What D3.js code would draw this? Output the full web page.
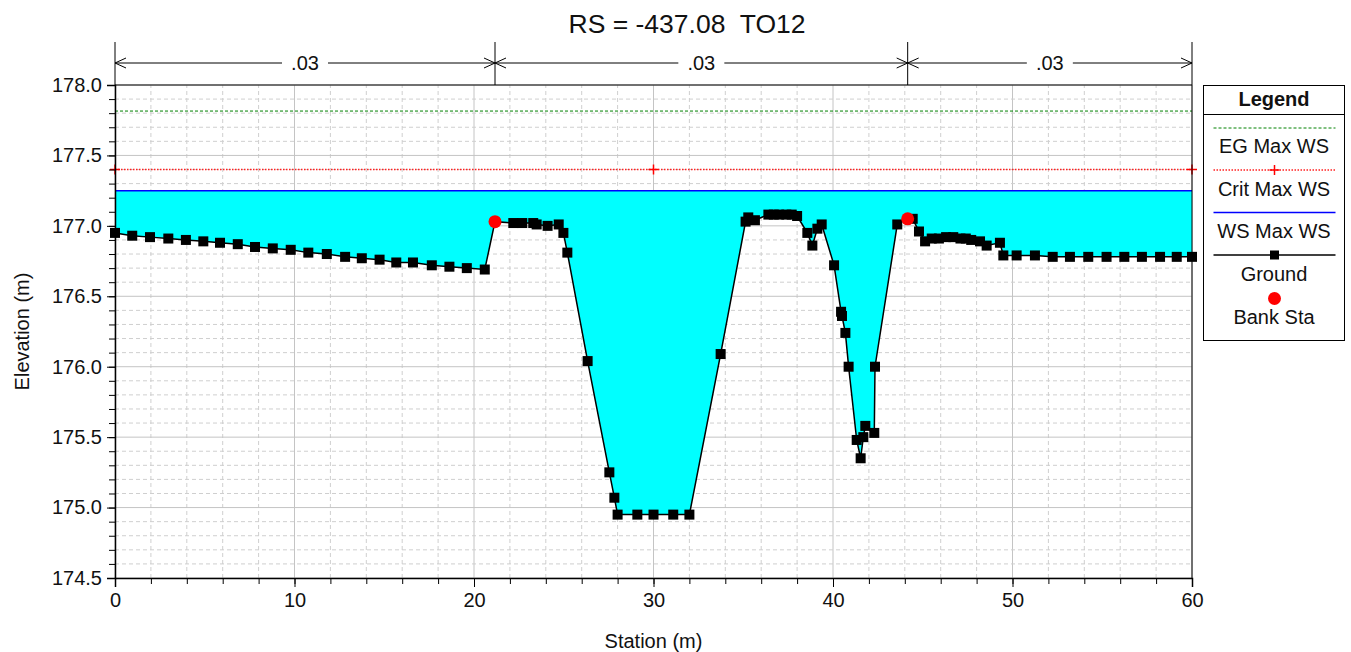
<!DOCTYPE html>
<html>
<head>
<meta charset="utf-8">
<script src="https://cdn.jsdelivr.net/npm/d3@7"></script>
<style>
  body { margin: 0; background: #fff; }
  svg { font-family: "Liberation Sans", Arial, sans-serif; }
</style>
</head>
<body>
<div id="chart"></div>
<script>
// ground profile (station m, elevation m)
var groundSta = [0, 0.96, 1.95, 2.97, 3.95, 4.92, 5.85, 6.84, 7.8, 8.79, 9.79, 10.77, 11.8, 12.82, 13.75, 14.74, 15.67, 16.6, 17.65, 18.63, 19.6, 20.6,
  21.17, 22.19, 22.69, 23.3, 23.49, 24.1, 24.72, 24.98, 25.2, 26.33, 27.54, 27.82, 28.0, 29.1, 30.0, 31.1, 32.0, 33.74,
  35.13, 35.28, 35.65, 36.4, 36.7, 37.0, 37.4, 37.7, 38.0, 38.57, 38.85, 39.13, 39.37, 40.06, 40.45, 40.5, 40.69, 40.87,
  41.32, 41.54, 41.69, 41.8, 42.3, 42.34, 43.58, 44.16, 44.44, 44.79, 45.13, 45.5, 45.9, 46.3, 46.7, 47.1, 47.4, 47.7,
  48.19, 48.56, 49.3, 49.49, 50.23, 51.25, 52.24, 53.2, 54.22, 55.24, 56.23, 57.21, 58.22, 59.15, 60.0];
var groundElev = [176.95, 176.93, 176.92, 176.91, 176.9, 176.89, 176.88, 176.87, 176.85, 176.84, 176.83, 176.81, 176.8, 176.78, 176.77, 176.76, 176.74, 176.74, 176.72, 176.71, 176.7, 176.69,
  177.03, 177.02, 177.02, 177.02, 177.01, 177.0, 177.01, 176.95, 176.81, 176.04, 175.25, 175.07, 174.95, 174.95, 174.95, 174.95, 174.95, 176.09,
  177.03, 177.06, 177.04, 177.08, 177.08, 177.08, 177.08, 177.08, 177.07, 176.95, 176.86, 176.98, 177.01, 176.72, 176.39, 176.36, 176.24, 176.0,
  175.48, 175.35, 175.5, 175.58, 175.53, 176.0, 177.01, 177.05, 177.05, 176.96, 176.89, 176.91, 176.91, 176.92, 176.92, 176.91, 176.91, 176.9,
  176.89, 176.86, 176.88, 176.79, 176.79, 176.79, 176.78, 176.78, 176.78, 176.78, 176.78, 176.78, 176.78, 176.78, 176.78];
// bank stations (drawn as red dots, no square)
var bankSta = [21.17, 44.16];
var bankElev = [177.03, 177.05];
var wsMax = 177.25;
var critMax = 177.40;
var egMax = 177.815;
var critMarkSta = [0, 30, 60];
var nBreaks = [0, 21.17, 44.16, 60];
var nValues = [".03", ".03", ".03"];
var xTicks = [0, 10, 20, 30, 40, 50, 60];
var yTicks = [174.5, 175.0, 175.5, 176.0, 176.5, 177.0, 177.5, 178.0];
var legendNames = ["EG Max WS", "Crit Max WS", "WS Max WS", "Ground", "Bank Sta"];

var width = 1351, height = 652;
var margin = {top: 85, right: 159, bottom: 74, left: 115};
var w = width - margin.left - margin.right;
var h = height - margin.top - margin.bottom;
var fs = 20;

var svg = d3.select("#chart").append("svg")
    .attr("width", width)
    .attr("height", height);

var x = d3.scaleLinear().domain([0, 60]).range([margin.left, margin.left + w]);
var y = d3.scaleLinear().domain([174.5, 178.0]).range([margin.top + h, margin.top]);

var ground = groundSta.map(function(s, i){ return [s, groundElev[i]]; });

//grid
var grid = svg.append("g");
d3.range(0, 61, 2).forEach(function(v){
    var major = v % 10 === 0;
    grid.append("line")
        .attr("x1", x(v)).attr("x2", x(v))
        .attr("y1", y(174.5)).attr("y2", y(178))
        .attr("stroke", major ? "#c4c4c4" : "#cfcfcf")
        .attr("stroke-dasharray", major ? null : "4,3");
});
d3.range(0, 36).forEach(function(k){
    var v = 174.5 + k * 0.1;
    var major = k % 5 === 0;
    grid.append("line")
        .attr("x1", x(0)).attr("x2", x(60))
        .attr("y1", y(v)).attr("y2", y(v))
        .attr("stroke", major ? "#c4c4c4" : "#cfcfcf")
        .attr("stroke-dasharray", major ? null : "4,3");
});

// water fill
var area = d3.area()
    .x(function(d){ return x(d[0]); })
    .y0(function(d){ return y(d[1]); })
    .y1(y(wsMax));
svg.append("path")
    .datum(ground)
    .attr("d", area)
    .attr("fill", "#00ffff");

// EG line
svg.append("line")
    .attr("x1", x(0)).attr("x2", x(60))
    .attr("y1", y(egMax)).attr("y2", y(egMax))
    .attr("stroke", "#008000").attr("stroke-width", 1)
    .attr("stroke-dasharray", "3,2");

// crit line
svg.append("line")
    .attr("x1", x(0)).attr("x2", x(60))
    .attr("y1", y(critMax)).attr("y2", y(critMax))
    .attr("stroke", "#ff2020").attr("stroke-width", 1.3)
    .attr("stroke-dasharray", "1.5,1.5");
critMarkSta.forEach(function(s){
    svg.append("path")
        .attr("d", "M" + (x(s) - 5) + "," + y(critMax) + "h10M" + x(s) + "," + (y(critMax) - 5) + "v10")
        .attr("stroke", "#ff0000").attr("stroke-width", 1.5);
});

// WS line
svg.append("line")
    .attr("x1", x(0)).attr("x2", x(60))
    .attr("y1", y(wsMax)).attr("y2", y(wsMax))
    .attr("stroke", "#0000ff").attr("stroke-width", 1.5);

// ground line + markers
var line = d3.line().x(function(d){ return x(d[0]); }).y(function(d){ return y(d[1]); });
svg.append("path")
    .datum(ground)
    .attr("d", line)
    .attr("fill", "none")
    .attr("stroke", "#000").attr("stroke-width", 1.5);
svg.selectAll("rect.gp")
    .data(ground.filter(function(d){ return bankSta.indexOf(d[0]) < 0; }))
    .enter().append("rect")
    .attr("class", "gp")
    .attr("x", function(d){ return x(d[0]) - 5; })
    .attr("y", function(d){ return y(d[1]) - 5; })
    .attr("width", 10).attr("height", 10)
    .attr("fill", "#000");

// bank stations
svg.selectAll("circle.bank")
    .data(bankSta)
    .enter().append("circle")
    .attr("class", "bank")
    .attr("cx", function(d){ return x(d); })
    .attr("cy", function(d, i){ return y(bankElev[i]); })
    .attr("r", 6.5)
    .attr("fill", "#ff0000");

// frame
svg.append("path")
    .attr("d", "M" + x(0) + "," + y(178) + "H" + x(60) + "V" + y(174.5))
    .attr("fill", "none").attr("stroke", "#000").attr("stroke-width", 1);

// axes
var xAxis = d3.axisBottom(x).tickValues(xTicks).tickSize(9).tickPadding(6).tickFormat(d3.format("d"));
var gx = svg.append("g").attr("transform", "translate(0," + y(174.5) + ")").call(xAxis);
gx.selectAll("text").attr("font-size", fs).attr("fill", "#111").attr("font-family", "Liberation Sans, Arial");
svg.append("g").attr("transform", "translate(0," + y(174.5) + ")")
    .call(d3.axisBottom(x).tickValues(d3.range(0, 61, 2)).tickSize(6).tickFormat(""))
    .select(".domain").remove();

var yAxis = d3.axisLeft(y).tickValues(yTicks).tickSize(8).tickPadding(5).tickFormat(d3.format(".1f"));
var gy = svg.append("g").attr("transform", "translate(" + x(0) + ",0)").call(yAxis);
gy.selectAll("text").attr("font-size", fs).attr("fill", "#111").attr("font-family", "Liberation Sans, Arial");
svg.append("g").attr("transform", "translate(" + x(0) + ",0)")
    .call(d3.axisLeft(y).tickValues(d3.range(0, 36).map(function(k){ return 174.5 + k * 0.1; })).tickSize(6).tickFormat(""))
    .select(".domain").remove();
svg.selectAll(".domain").attr("stroke-width", 1.5);

svg.append("text")
    .attr("x", x(30)).attr("y", 648)
    .attr("text-anchor", "middle").attr("font-size", fs).attr("fill", "#111")
    .text("Station (m)");
svg.append("text")
    .attr("transform", "translate(29," + y(176.25) + ") rotate(-90)")
    .attr("text-anchor", "middle").attr("font-size", fs).attr("fill", "#111")
    .text("Elevation (m)");

// title
svg.append("text")
    .attr("x", 687).attr("y", 33)
    .attr("text-anchor", "middle").attr("font-size", 26.5).attr("fill", "#111")
    .attr("xml:space", "preserve")
    .text("RS = -437.08  TO12");

// manning n bands
var nY = 63;
nBreaks.forEach(function(b){
    svg.append("line")
        .attr("x1", x(b)).attr("x2", x(b))
        .attr("y1", 42).attr("y2", y(178))
        .attr("stroke", "#000").attr("stroke-width", 1);
});
nValues.forEach(function(v, i){
    var x0 = x(nBreaks[i]), x1 = x(nBreaks[i + 1]), xm = (x0 + x1) / 2;
    var tw = 46;
    svg.append("path")
        .attr("d", "M" + x0 + "," + nY + "H" + (xm - tw / 2) + "M" + (xm + tw / 2) + "," + nY + "H" + x1 +
            "M" + (x0 + 11) + "," + (nY - 5) + "L" + x0 + "," + nY + "L" + (x0 + 11) + "," + (nY + 5) +
            "M" + (x1 - 11) + "," + (nY - 5) + "L" + x1 + "," + nY + "L" + (x1 - 11) + "," + (nY + 5))
        .attr("fill", "none").attr("stroke", "#000").attr("stroke-width", 1);
    svg.append("text")
        .attr("x", xm).attr("y", nY + 7)
        .attr("text-anchor", "middle").attr("font-size", fs).attr("fill", "#111")
        .text(v);
});

// legend
var lg = svg.append("g").attr("transform", "translate(1203.5,85.5)");
lg.append("rect").attr("width", 141).attr("height", 255)
    .attr("fill", "#fff").attr("stroke", "#000").attr("stroke-width", 1);
lg.append("line").attr("x1", 0).attr("x2", 141).attr("y1", 29).attr("y2", 29).attr("stroke", "#000");
lg.append("text").attr("x", 70.5).attr("y", 20).attr("text-anchor", "middle")
    .attr("font-size", fs).attr("font-weight", "bold").attr("fill", "#111").text("Legend");
var lx0 = 10, lx1 = 132, lxm = 71;
var rowY = [42.5, 84.5, 127, 169.5];
lg.append("line").attr("x1", lx0).attr("x2", lx1).attr("y1", rowY[0]).attr("y2", rowY[0])
    .attr("stroke", "#008000").attr("stroke-dasharray", "3,2");
lg.append("line").attr("x1", lx0).attr("x2", lx1).attr("y1", rowY[1]).attr("y2", rowY[1])
    .attr("stroke", "#ff2020").attr("stroke-width", 1.3).attr("stroke-dasharray", "1.5,1.5");
lg.append("path").attr("d", "M" + (lxm - 5) + "," + rowY[1] + "h10M" + lxm + "," + (rowY[1] - 5) + "v10")
    .attr("stroke", "#ff0000").attr("stroke-width", 1.5);
lg.append("line").attr("x1", lx0).attr("x2", lx1).attr("y1", rowY[2]).attr("y2", rowY[2])
    .attr("stroke", "#0000ff").attr("stroke-width", 1.5);
lg.append("line").attr("x1", lx0).attr("x2", lx1).attr("y1", rowY[3]).attr("y2", rowY[3])
    .attr("stroke", "#000").attr("stroke-width", 1.5);
lg.append("rect").attr("x", lxm - 4.5).attr("y", rowY[3] - 4.5).attr("width", 9).attr("height", 9).attr("fill", "#000");
lg.append("circle").attr("cx", lxm).attr("cy", 213).attr("r", 6.5).attr("fill", "#ff0000");
var textY = [67, 110, 152, 195, 238];
legendNames.forEach(function(n, i){
    lg.append("text").attr("x", 70.5).attr("y", textY[i]).attr("text-anchor", "middle")
        .attr("font-size", fs).attr("fill", "#111").text(n);
});
</script>
</body>
</html>
